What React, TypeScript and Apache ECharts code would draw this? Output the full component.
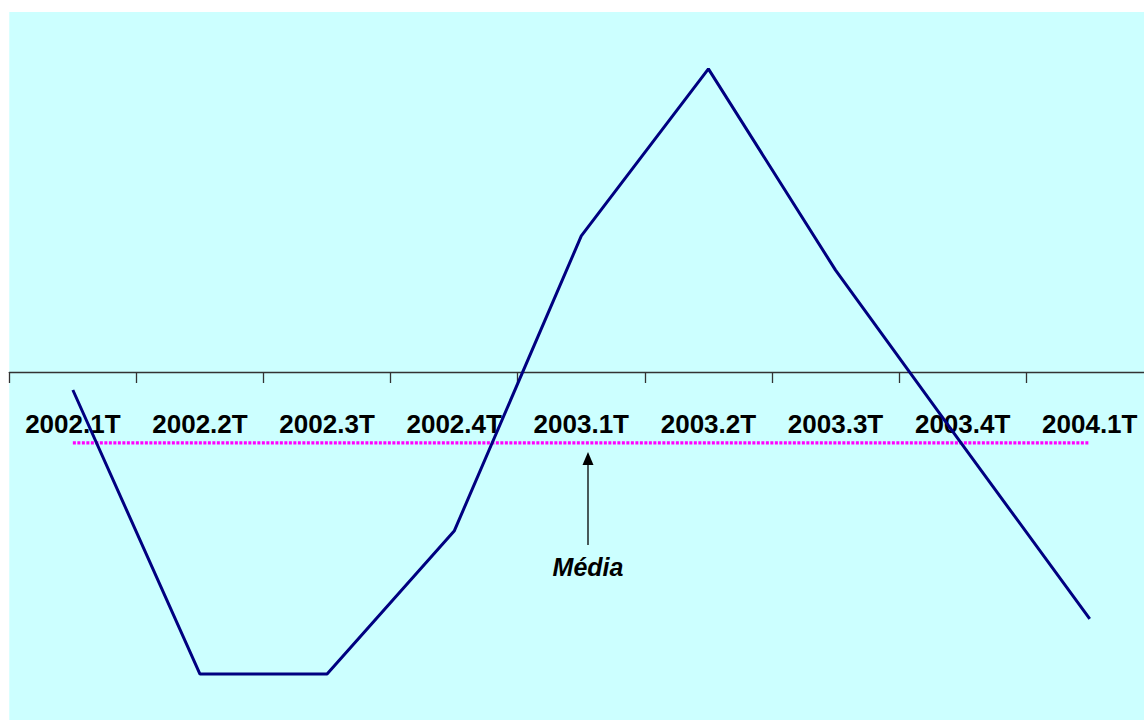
import React, { useEffect, useRef } from "react";
import * as echarts from "echarts";

const categories = [
  "2002.1T", "2002.2T", "2002.3T", "2002.4T", "2003.1T",
  "2003.2T", "2003.3T", "2003.4T", "2004.1T",
];
const values = [-0.5, -8.39, -8.39, -4.42, 3.78, 8.42, 2.83, -2.03, -6.86];
const meanValue = -1.97;
const meanValues = categories.map(() => meanValue);
const annotationText = "Média";

export default function App() {
  const ref = useRef<HTMLDivElement>(null);
  useEffect(() => {
    if (!ref.current) return;
    const chart = echarts.init(ref.current, undefined, { renderer: "svg" });
    chart.setOption({
      animation: false,
      backgroundColor: "#ffffff",
      grid: {
        left: 9.3,
        top: 12,
        width: 1144,
        height: 708,
        show: true,
        backgroundColor: "#CCFFFF",
        borderWidth: 0,
        containLabel: false,
        outerBoundsMode: "none",
      },
      xAxis: {
        type: "category",
        data: categories,
        boundaryGap: true,
        position: "bottom",
        offset: -348,
        axisLine: { onZero: false, lineStyle: { color: "#333333", width: 1.3 } },
        axisTick: { show: true, length: 11, lineStyle: { color: "#333333", width: 1.3 } },
        axisLabel: {
          margin: 39,
          fontFamily: "'Liberation Sans', Arial, sans-serif",
          fontWeight: "bold",
          fontSize: 26,
          color: "#000000",
          interval: 0,
          hideOverlap: false,
        },
        splitLine: { show: false },
      },
      yAxis: {
        type: "value",
        min: -348 / 36,
        max: 10,
        show: false,
        splitLine: { show: false },
      },
      series: [
        {
          type: "line",
          data: meanValues,
          symbol: "none",
          lineStyle: { color: "#FF00FF", width: 3.2, type: [3, 1.5] },
          z: 3,
        },
        {
          type: "line",
          data: values,
          symbol: "none",
          lineStyle: { color: "#000080", width: 3 },
          z: 4,
        },
      ],
      graphic: [
        {
          type: "line",
          shape: { x1: 588, y1: 463, x2: 588, y2: 545 },
          style: { stroke: "#000000", lineWidth: 1.3 },
        },
        {
          type: "polygon",
          shape: { points: [[588, 452], [582.5, 465], [593.5, 465]] },
          style: { fill: "#000000" },
        },
        {
          type: "text",
          x: 588,
          y: 567,
          style: {
            text: annotationText,
            fontFamily: "'Liberation Sans', Arial, sans-serif",
            fontWeight: "bold",
            fontStyle: "italic",
            fontSize: 25,
            fill: "#000000",
            align: "center",
            verticalAlign: "middle",
          },
        },
      ],
    });
    return () => chart.dispose();
  }, []);
  return (
    <div
      style={{
        position: "absolute",
        left: 0,
        top: 0,
        width: 1144,
        height: 720,
        overflow: "hidden",
        background: "#ffffff",
      }}
    >
      <div ref={ref} style={{ width: 1170, height: 720 }} />
    </div>
  );
}
